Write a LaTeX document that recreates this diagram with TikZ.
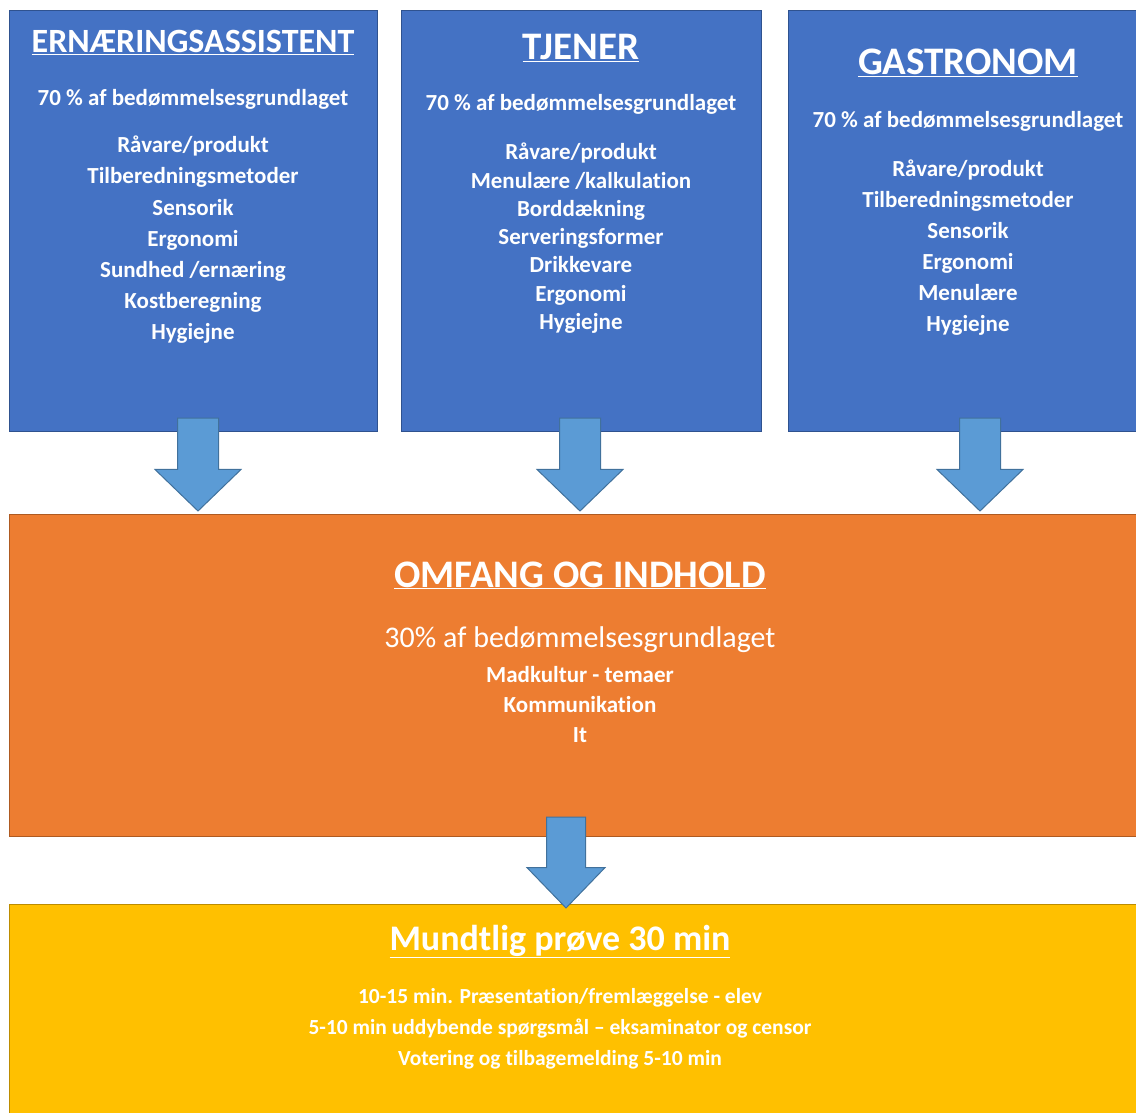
\documentclass[tikz,border=0pt]{standalone}
\usepackage{fontspec}
\setmainfont{Carlito}[Ligatures=NoCommon]
\usepackage{tikz}
\usetikzlibrary{positioning,shapes.arrows}

\definecolor{blaa}{HTML}{4472C4}
\definecolor{blaakant}{HTML}{2F528F}
\definecolor{pilfyld}{HTML}{5B9BD5}
\definecolor{pilkant}{HTML}{41719C}
\definecolor{orange}{HTML}{ED7D31}
\definecolor{orangekant}{HTML}{AE5A21}
\definecolor{gul}{HTML}{FFC000}
\definecolor{gulkant}{HTML}{BC8C00}

\begin{document}
\begin{tikzpicture}[x=1pt, y=-1pt, inner sep=0pt, outer sep=0pt,
  boks/.style={draw=#1kant, fill=#1, line width=1pt, anchor=north west},
  titel/.style={text=white, anchor=base, font=\bfseries\fontsize{39}{39}\selectfont},
  andel/.style={text=white, anchor=base, font=\bfseries\fontsize{23}{23}\selectfont},
  punkt/.style={text=white, anchor=base, font=\bfseries\fontsize{23}{23}\selectfont},
  pil/.style={single arrow, shape border rotate=270, draw=pilkant, fill=pilfyld, line width=1pt,
    anchor=tail, inner xsep=20pt, inner ysep=0pt, minimum height=93, minimum width=85,
    single arrow head extend=22.5, single arrow tip angle=92}]

\useasboundingbox (0,0) rectangle (1136,1113);
\clip (0,0) rectangle (1136,1113);

% fagboksene
\node [boks=blaa, minimum width=368, minimum height=420] (ern) at (9,11) {};
\node [boks=blaa, minimum width=360, minimum height=420] (tje) at (401,11) {};
\node [boks=blaa, minimum width=360, minimum height=420] (gas) at (788,11) {};
\node [boks=orange, minimum width=1142, minimum height=322] (omf) at (9,514) {};
\node [boks=gul, minimum width=1142, minimum height=240] (mun) at (9,904) {};

% pilene
\node [pil] (p1) at ([xshift=5pt, yshift=13pt]ern.south) {};
\node [pil] (p2) at ([xshift=-1pt, yshift=13pt]tje.south) {};
\node [pil] (p3) at ([xshift=12pt, yshift=13pt]gas.south) {};
\node [pil, inner xsep=19pt, minimum width=77, minimum height=91, single arrow head extend=19.5,
  single arrow tip angle=88] (p4) at ([xshift=-14pt, yshift=19pt]omf.south) {};

% ernaeringsassistent
\node [titel, font=\bfseries\fontsize{34}{34}\selectfont] (ern-titel) at ([yshift=-42pt]ern.north) {\underline{ERNÆRINGSASSISTENT}};
\node [andel] (ern-andel) at ([yshift=-95pt]ern.north) {70 \% af bedømmelsesgrundlaget};
\foreach \t [count=\i] in {Råvare/produkt, Tilberedningsmetoder, Sensorik, Ergonomi,
  Sundhed /ernæring, Kostberegning, Hygiejne}
  \node [punkt] (ern-\i) at ([yshift={-(142+(\i-1)*31)*1pt}]ern.north) {\t};

% tjener
\node [titel] (tje-titel) at ([yshift=-49pt]tje.north) {\underline{TJENER}};
\node [andel] (tje-andel) at ([yshift=-100pt]tje.north) {70 \% af bedømmelsesgrundlaget};
\foreach \t [count=\i] in {Råvare/produkt, Menulære /kalkulation, Borddækning,
  Serveringsformer, Drikkevare, Ergonomi, Hygiejne}
  \node [punkt] (tje-\i) at ([yshift={-(149+(\i-1)*28.2)*1pt}]tje.north) {\t};

% gastronom
\node [titel] (gas-titel) at ([yshift=-64pt]gas.north) {\underline{GASTRONOM}};
\node [andel] (gas-andel) at ([yshift=-117pt]gas.north) {70 \% af bedømmelsesgrundlaget};
\foreach \t [count=\i] in {Råvare/produkt, Tilberedningsmetoder, Sensorik, Ergonomi,
  Menulære, Hygiejne}
  \node [punkt] (gas-\i) at ([yshift={-(166+(\i-1)*30.8)*1pt}]gas.north) {\t};

% omfang og indhold
\node [titel] (omf-titel) at (580,587) {\underline{OMFANG OG INDHOLD}};
\node [andel, font=\fontsize{30}{30}\selectfont] (omf-andel) at (580,647) {30\% af bedømmelsesgrundlaget};
\foreach \t [count=\i] in {Madkultur - temaer, Kommunikation, It}
  \node [punkt] (omf-\i) at (580,{682+(\i-1)*30}) {\t};

% mundtlig proeve
\node [titel, font=\bfseries\fontsize{36}{36}\selectfont] (mun-titel) at (560,950) {\underline{Mundtlig prøve 30 min}};
\foreach \t [count=\i] in {10-15 min. Præsentation/fremlæggelse - elev,
  5-10 min uddybende spørgsmål – eksaminator og censor, Votering og tilbagemelding 5-10 min}
  \node [punkt, font=\bfseries\fontsize{21.5}{21.5}\selectfont] (mun-\i) at (560,{1003+(\i-1)*31}) {\t};
\end{tikzpicture}
\end{document}
